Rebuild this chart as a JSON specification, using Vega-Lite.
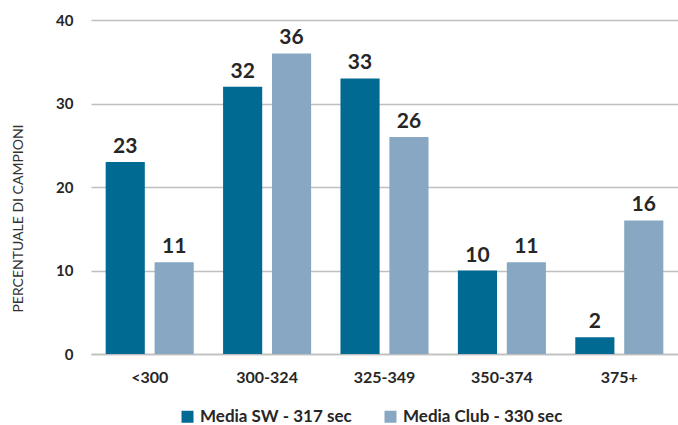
{
  "$schema": "https://vega.github.io/schema/vega-lite/v6.json",
  "width": 587,
  "height": 334,
  "autosize": {"type": "none"},
  "padding": {"left": 91, "top": 20, "right": 0, "bottom": 71},
  "background": "white",
  "config": {
    "view": {"stroke": null},
    "font": "Lato"
  },
  "data": {
    "values": [
      {"range": "<300", "serie": "Media SW - 317 sec", "val": 23},
      {"range": "<300", "serie": "Media Club - 330 sec", "val": 11},
      {"range": "300-324", "serie": "Media SW - 317 sec", "val": 32},
      {"range": "300-324", "serie": "Media Club - 330 sec", "val": 36},
      {"range": "325-349", "serie": "Media SW - 317 sec", "val": 33},
      {"range": "325-349", "serie": "Media Club - 330 sec", "val": 26},
      {"range": "350-374", "serie": "Media SW - 317 sec", "val": 10},
      {"range": "350-374", "serie": "Media Club - 330 sec", "val": 11},
      {"range": "375+", "serie": "Media SW - 317 sec", "val": 2},
      {"range": "375+", "serie": "Media Club - 330 sec", "val": 16}
    ]
  },
  "encoding": {
    "x": {
      "field": "range", "type": "nominal", "sort": null,
      "scale": {"paddingInner": 0.25, "paddingOuter": 0.125},
      "axis": {
        "title": null, "labelAngle": 0, "ticks": false, "tickSize": 0,
        "domainColor": "#bfbfbf", "domainWidth": 1.5,
        "labelFont": "Lato", "labelFontWeight": "bold", "labelFontSize": 16,
        "labelColor": "#262626", "labelPadding": 15
      }
    },
    "xOffset": {
      "field": "serie", "type": "nominal", "sort": ["Media SW - 317 sec", "Media Club - 330 sec"],
      "scale": {"paddingInner": 0.2, "paddingOuter": 0}
    },
    "y": {
      "field": "val", "type": "quantitative",
      "scale": {"domain": [0, 40]},
      "axis": {
        "values": [0, 10, 20, 30, 40],
        "title": "PERCENTUALE DI CAMPIONI",
        "titleFont": "Lato", "titleFontWeight": "normal", "titleFontSize": 14,
        "titleColor": "#333333", "titleAngle": -90, "titleAlign": "center",
        "titleBaseline": "middle", "titleX": -73, "titleY": 198,
        "domain": false, "ticks": false, "tickSize": 0,
        "gridColor": "#bfbfbf", "gridWidth": 1.5,
        "labelFont": "Lato", "labelFontWeight": "bold", "labelFontSize": 15,
        "labelColor": "#262626", "labelPadding": 18
      }
    }
  },
  "layer": [
    {
      "mark": {"type": "bar"},
      "encoding": {
        "color": {
          "field": "serie", "type": "nominal",
          "sort": ["Media SW - 317 sec", "Media Club - 330 sec"],
          "scale": {"domain": ["Media SW - 317 sec", "Media Club - 330 sec"], "range": ["#006a93", "#87a7c2"]},
          "legend": {
            "title": null, "orient": "none", "direction": "horizontal",
            "legendX": 88, "legendY": 388,
            "symbolType": "square", "symbolSize": 144, "symbolStrokeWidth": 0,
            "labelFont": "Lato", "labelFontWeight": "bold", "labelFontSize": 17,
            "labelColor": "#262626", "labelOffset": 4, "columnPadding": 30
          }
        }
      }
    },
    {
      "mark": {"type": "text", "baseline": "alphabetic", "dy": -9, "font": "Lato", "fontWeight": "bold", "fontSize": 21, "color": "#262626"},
      "encoding": {
        "text": {"field": "val", "type": "quantitative"}
      }
    }
  ]
}
